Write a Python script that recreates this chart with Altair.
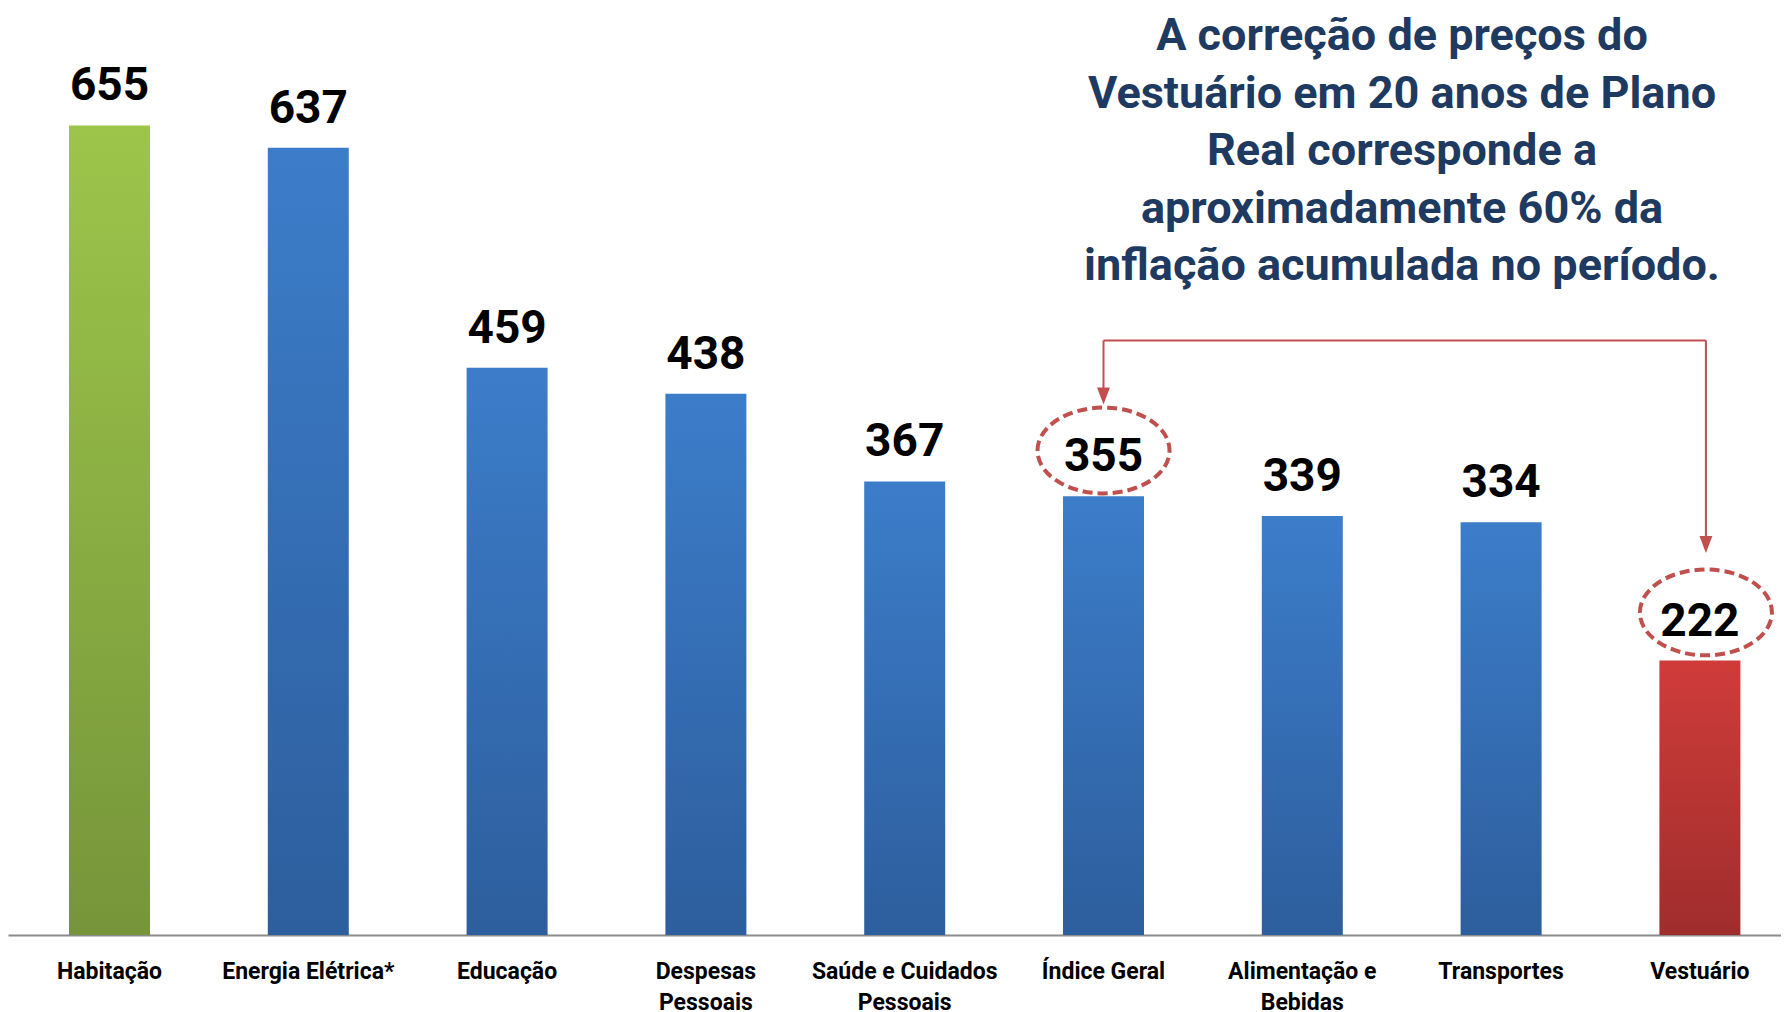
import altair as alt
import pandas as pd

# ---- data ----
categorias = ["Habitação", "Energia Elétrica*", "Educação", "Despesas\nPessoais",
              "Saúde e Cuidados\nPessoais", "Índice Geral", "Alimentação e\nBebidas",
              "Transportes", "Vestuário"]
valores = [655, 637, 459, 438, 367, 355, 339, 334, 222]
grupos = ["verde", "azul", "azul", "azul", "azul", "azul", "azul", "azul", "vermelho"]

titulo = ["A correção de preços do",
          "Vestuário em 20 anos de Plano",
          "Real corresponde a",
          "aproximadamente 60% da",
          "inflação acumulada no período."]

destaque_cat = ["Índice Geral", "Vestuário"]
elipse_y = [392, 261]      # centre of dashed ellipses (data units)
seta_y = [436, 316]        # arrowhead centres (data units)
conector_y = [481, 481]    # height of the connector line (data units)

df = pd.DataFrame({"cat": categorias, "v": valores, "grupo": grupos})
ann = pd.DataFrame({"cat": destaque_cat, "ey": elipse_y, "sy": seta_y, "cy": conector_y})
hline = pd.DataFrame({"cat": [destaque_cat[0]], "cat2": [destaque_cat[1]], "cy": [conector_y[0]]})
one = pd.DataFrame({"a": [0]})

RED = "#C0504D"
DESLOC = {destaque_cat[0]: 0, destaque_cat[1]: 6}   # small pixel nudge of the right-hand marks

def grad(top, bottom):
    return alt.Gradient(gradient="linear",
                        stops=[alt.GradientStop(color=top, offset=0),
                               alt.GradientStop(color=bottom, offset=1)],
                        x1=0, x2=0, y1=0, y2=1)

xscale = alt.Scale(domain=categorias, paddingInner=0.5926, paddingOuter=0.2555,
                   align=0.6004, round=False)
xaxis = alt.Axis(title=None, labelAngle=0, labelExpr="split(datum.label, '\\n')",
                 labelFont="Roboto", labelFontSize=23, labelFontWeight="bold",
                 labelColor="black", labelLineHeight=31, ticks=False, tickSize=0,
                 labelPadding=25, domainColor="#8c8c8c", domainWidth=2,
                 labelLimit=400, labelOverlap=False, labelBound=False)
X = alt.X("cat:N", sort=None, scale=xscale, axis=xaxis)
yscale = alt.Scale(domain=[0, 750], nice=False, zero=True)

base = alt.Chart(df)

def bars(g, top, bottom):
    return base.transform_filter(alt.datum.grupo == g).mark_bar(color=grad(top, bottom)).encode(
        x=X, y=alt.Y("v:Q", scale=yscale, axis=None))

verde = bars("verde", "#9DC54A", "#76953A")
azul = bars("azul", "#3C7DCA", "#2D5E9D")
verm = bars("vermelho", "#CF3C3A", "#9F2D2C")

rotulos = base.mark_text(font="Roboto", fontSize=46, fontWeight="bold", baseline="alphabetic",
                         dy=-25, color="black").encode(
    x=X, y=alt.Y("v:Q", scale=yscale, axis=None), text="v:Q")

camadas_ann = []
for c in destaque_cat:
    sub = alt.Chart(ann).transform_filter(alt.datum.cat == c)
    dx = DESLOC[c]
    camadas_ann.append(sub.mark_rule(color=RED, strokeWidth=2, xOffset=dx).encode(
        x=X, y=alt.Y("cy:Q", scale=yscale, axis=None), y2="sy:Q"))
    camadas_ann.append(sub.mark_point(
        shape="M -0.76 -1 L 0.76 -1 L 0 1 Z", size=289, filled=True, fill=RED,
        strokeWidth=0, opacity=1, xOffset=dx).encode(
        x=X, y=alt.Y("sy:Q", scale=yscale, axis=None)))
    camadas_ann.append(sub.mark_point(
        shape="M -1 0 A 1 0.65 0 1 1 1 0 A 1 0.65 0 1 1 -1 0 Z",
        size=17424, filled=False, stroke=RED, strokeWidth=4, strokeDash=[10, 5],
        opacity=1, xOffset=dx).encode(
        x=X, y=alt.Y("ey:Q", scale=yscale, axis=None)))

horizontal = alt.Chart(hline).mark_rule(color=RED, strokeWidth=2,
                                        x2Offset=DESLOC[destaque_cat[1]]).encode(
    x=X, x2="cat2:N", y=alt.Y("cy:Q", scale=yscale, axis=None))

texto = alt.Chart(one).mark_text(text=titulo, font="Roboto", fontSize=45, fontWeight="bold",
                                 color="#1F3A60", lineHeight=57.5, align="center",
                                 baseline="middle").encode(
    x=alt.value(1394), y=alt.value(28))

chart = alt.layer(verde, azul, verm, rotulos, horizontal, *camadas_ann, texto).properties(
    width=1773, height=927, padding=0
).configure(background="white", view=alt.ViewConfig(stroke=None))

chart.save("out.html", embed_options={"renderer": "svg", "actions": False})
